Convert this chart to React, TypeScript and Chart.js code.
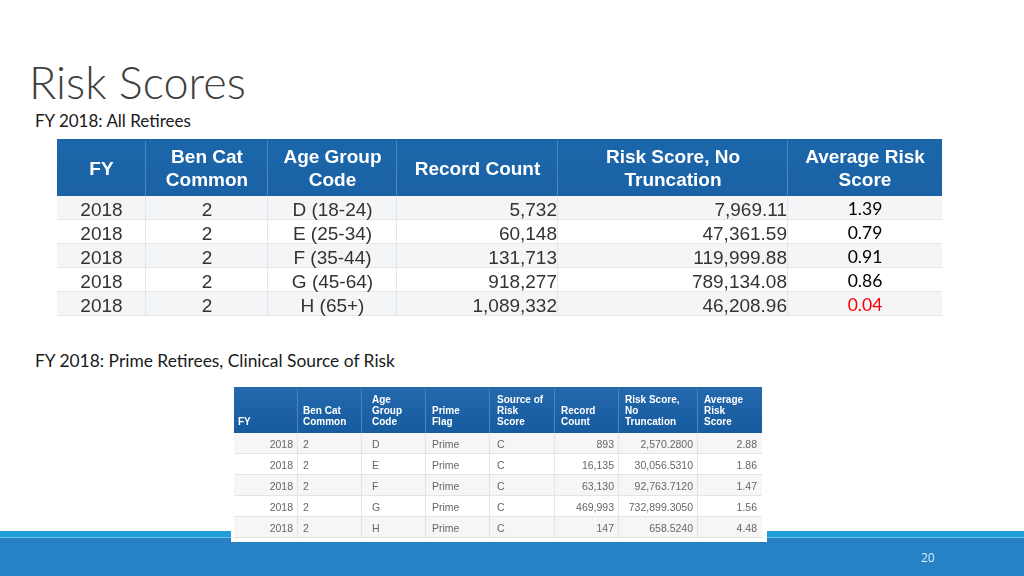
import React, { useEffect, useRef } from "react";
import { Chart, registerables } from "chart.js";

Chart.register(...registerables);

// ---------- Table 1: FY 2018, All Retirees ----------
const t1Headers = [
  ["FY"],
  ["Ben Cat", "Common"],
  ["Age Group", "Code"],
  ["Record Count"],
  ["Risk Score, No", "Truncation"],
  ["Average Risk", "Score"],
];
const t1FiscalYears = ["2018", "2018", "2018", "2018", "2018"];
const t1BenCat = ["2", "2", "2", "2", "2"];
const t1AgeGroups = ["D (18-24)", "E (25-34)", "F (35-44)", "G (45-64)", "H (65+)"];
const t1RecordCounts = [5732, 60148, 131713, 918277, 1089332];
const t1RiskScores = [7969.11, 47361.59, 119999.88, 789134.08, 46208.96];
const t1AvgRisk = [1.39, 0.79, 0.91, 0.86, 0.04];

// ---------- Table 2: FY 2018, Prime Retirees, Clinical Source ----------
const t2Headers = [
  ["FY"],
  ["Ben Cat", "Common"],
  ["Age", "Group", "Code"],
  ["Prime", "Flag"],
  ["Source of", "Risk", "Score"],
  ["Record", "Count"],
  ["Risk Score,", "No", "Truncation"],
  ["Average", "Risk", "Score"],
];
const t2FiscalYears = ["2018", "2018", "2018", "2018", "2018"];
const t2BenCat = ["2", "2", "2", "2", "2"];
const t2AgeCodes = ["D", "E", "F", "G", "H"];
const t2PrimeFlags = ["Prime", "Prime", "Prime", "Prime", "Prime"];
const t2Sources = ["C", "C", "C", "C", "C"];
const t2RecordCounts = [893, 16135, 63130, 469993, 147];
const t2RiskScores = [2570.28, 30056.531, 92763.712, 732899.305, 658.524];
const t2AvgRisk = [2.88, 1.86, 1.47, 1.56, 4.48];

const LOW_RISK_LIMIT = 0.5;

const fmtInt = (n: number) => n.toLocaleString("en-US");
const fmtDec = (d: number) => (n: number) =>
  n.toLocaleString("en-US", { minimumFractionDigits: d, maximumFractionDigits: d });

type Align = "left" | "center" | "right";
interface Cell { text: string; color?: string }
interface ColSpec { width: number; align: Align; pad: number; font?: string; color?: string; headerPad?: number; dy?: number }
interface TableSpec {
  cols: ColSpec[];
  headerH: number;
  rowH: number;
  headerLines: string[][];
  headerFont: string;
  headerLineH: number;
  headerVAlign: "middle" | "bottom";
  headerBottomPad: number;
  headerAlign: Align;
  headerBg: [string, string];
  headerDivider: string;
  headerDy: number;
  rows: Cell[][];
  rowBg: [string, string];
  gridColor: string;
  bodyFont: string;
  bodyColor: string;
  bodyDy: number;
}

const t1Rows: Cell[][] = t1FiscalYears.map((fy, i) => [
  { text: fy },
  { text: t1BenCat[i] },
  { text: t1AgeGroups[i] },
  { text: fmtInt(t1RecordCounts[i]) },
  { text: fmtDec(2)(t1RiskScores[i]) },
  { text: fmtDec(2)(t1AvgRisk[i]), color: t1AvgRisk[i] < LOW_RISK_LIMIT ? "#ff0000" : "#000000" },
]);

const t2Rows: Cell[][] = t2FiscalYears.map((fy, i) => [
  { text: fy },
  { text: t2BenCat[i] },
  { text: t2AgeCodes[i] },
  { text: t2PrimeFlags[i] },
  { text: t2Sources[i] },
  { text: fmtInt(t2RecordCounts[i]) },
  { text: fmtDec(4)(t2RiskScores[i]) },
  { text: fmtDec(2)(t2AvgRisk[i]) },
]);

const table1: TableSpec = {
  cols: [
    { width: 89, align: "center", pad: 0 },
    { width: 122, align: "center", pad: 0 },
    { width: 129, align: "center", pad: 0 },
    { width: 161, align: "right", pad: 1 },
    { width: 230, align: "right", pad: 1 },
    { width: 154, align: "center", pad: 0, font: "17.5px Lato, 'Open Sans', sans-serif", dy: -1.5 },
  ],
  headerH: 57,
  rowH: 24,
  headerLines: t1Headers,
  headerFont: "bold 19px 'Liberation Sans', Arial, sans-serif",
  headerLineH: 23,
  headerVAlign: "middle",
  headerBottomPad: 0,
  headerAlign: "center",
  headerBg: ["#1b66aa", "#1a62a5"],
  headerDivider: "#4c87c2",
  headerDy: 2,
  rows: t1Rows,
  rowBg: ["#f3f5f7", "#ffffff"],
  gridColor: "#e3e7eb",
  bodyFont: "19px 'Liberation Sans', Arial, sans-serif",
  bodyColor: "#333333",
  bodyDy: 3,
};

const table2: TableSpec = {
  cols: [
    { width: 64, align: "right", pad: 5, headerPad: 4 },
    { width: 64, align: "left", pad: 5 },
    { width: 64, align: "left", pad: 10, headerPad: 10 },
    { width: 64, align: "left", pad: 6 },
    { width: 65, align: "left", pad: 7 },
    { width: 64, align: "right", pad: 5, headerPad: 6 },
    { width: 79, align: "right", pad: 5, headerPad: 6 },
    { width: 64, align: "right", pad: 5, headerPad: 6 },
  ],
  headerH: 46,
  rowH: 21,
  headerLines: t2Headers,
  headerFont: "bold 10px 'Liberation Sans', Arial, sans-serif",
  headerLineH: 11,
  headerVAlign: "bottom",
  headerBottomPad: 12,
  headerAlign: "left",
  headerBg: ["#2569ad", "#165b9f"],
  headerDivider: "#4a84c0",
  headerDy: 1,
  rows: t2Rows,
  rowBg: ["#f6f6f6", "#ffffff"],
  gridColor: "#e4e4e4",
  bodyFont: "10.5px 'Liberation Sans', Arial, sans-serif",
  bodyColor: "#666666",
  bodyDy: 2,
};

function tableSize(spec: TableSpec) {
  const w = spec.cols.reduce((s, c) => s + c.width, 0);
  const h = spec.headerH + spec.rowH * spec.rows.length;
  return { w, h };
}

function makeTablePlugin(spec: TableSpec) {
  return {
    id: "tableCells",
    afterDraw(chart: any) {
      const { ctx } = chart;
      const xs = chart.scales.x;
      const ys = chart.scales.y;
      const { w, h } = tableSize(spec);
      const xEdges: number[] = [0];
      spec.cols.forEach((c) => xEdges.push(xEdges[xEdges.length - 1] + c.width));
      const yEdges: number[] = [0, spec.headerH];
      spec.rows.forEach(() => yEdges.push(yEdges[yEdges.length - 1] + spec.rowH));
      const px = (v: number) => xs.getPixelForValue(v);
      const py = (v: number) => ys.getPixelForValue(v);

      ctx.save();
      // header background
      const g = ctx.createLinearGradient(0, py(0), 0, py(spec.headerH));
      g.addColorStop(0, spec.headerBg[0]);
      g.addColorStop(1, spec.headerBg[1]);
      ctx.fillStyle = g;
      ctx.fillRect(px(0), py(0), px(w) - px(0), py(spec.headerH) - py(0));

      // row backgrounds
      spec.rows.forEach((_, r) => {
        ctx.fillStyle = spec.rowBg[r % 2];
        ctx.fillRect(px(0), py(yEdges[r + 1]), px(w) - px(0), py(yEdges[r + 2]) - py(yEdges[r + 1]));
      });

      // grid lines (body)
      ctx.strokeStyle = spec.gridColor;
      ctx.lineWidth = 1;
      for (let r = 2; r < yEdges.length; r++) {
        const yy = Math.round(py(yEdges[r])) - 0.5;
        ctx.beginPath();
        ctx.moveTo(px(0), yy);
        ctx.lineTo(px(w), yy);
        ctx.stroke();
      }
      for (let c = 1; c < xEdges.length - 1; c++) {
        const xx = Math.round(px(xEdges[c])) - 0.5;
        ctx.beginPath();
        ctx.moveTo(xx, py(spec.headerH));
        ctx.lineTo(xx, py(h));
        ctx.stroke();
      }
      // header dividers
      ctx.strokeStyle = spec.headerDivider;
      for (let c = 1; c < xEdges.length - 1; c++) {
        const xx = Math.round(px(xEdges[c])) - 0.5;
        ctx.beginPath();
        ctx.moveTo(xx, py(0) + 2);
        ctx.lineTo(xx, py(spec.headerH));
        ctx.stroke();
      }

      // header text
      ctx.fillStyle = "#ffffff";
      ctx.font = spec.headerFont;
      ctx.textBaseline = "middle";
      spec.headerLines.forEach((lines, c) => {
        const col = spec.cols[c];
        const n = lines.length;
        let firstY: number;
        if (spec.headerVAlign === "middle") {
          firstY = spec.headerH / 2 - ((n - 1) * spec.headerLineH) / 2;
        } else {
          firstY = spec.headerH - spec.headerBottomPad - (n - 1) * spec.headerLineH;
        }
        let tx: number;
        if (spec.headerAlign === "center") {
          ctx.textAlign = "center";
          tx = (xEdges[c] + xEdges[c + 1]) / 2;
        } else {
          ctx.textAlign = "left";
          tx = xEdges[c] + (col.headerPad ?? col.pad);
        }
        lines.forEach((ln, i) => {
          ctx.fillText(ln, px(tx), py(firstY + i * spec.headerLineH) + spec.headerDy);
        });
      });

      // body text
      spec.rows.forEach((row, r) => {
        const cy = (yEdges[r + 1] + yEdges[r + 2]) / 2;
        row.forEach((cell, c) => {
          const col = spec.cols[c];
          ctx.font = col.font ?? spec.bodyFont;
          ctx.fillStyle = cell.color ?? col.color ?? spec.bodyColor;
          ctx.textAlign = col.align;
          let tx: number;
          if (col.align === "center") tx = (xEdges[c] + xEdges[c + 1]) / 2;
          else if (col.align === "left") tx = xEdges[c] + col.pad;
          else tx = xEdges[c + 1] - col.pad;
          ctx.fillText(cell.text, px(tx), py(cy) + spec.bodyDy + (col.dy ?? 0));
        });
      });
      ctx.restore();
    },
  };
}

function TableChart({ spec }: { spec: TableSpec }) {
  const ref = useRef<HTMLCanvasElement | null>(null);
  const { w, h } = tableSize(spec);
  useEffect(() => {
    if (!ref.current) return;
    const chart = new Chart(ref.current, {
      type: "scatter",
      data: { datasets: [{ data: [] }] },
      options: {
        responsive: false,
        animation: false,
        events: [],
        layout: { padding: 0 },
        plugins: { legend: { display: false }, tooltip: { enabled: false } },
        scales: {
          x: { type: "linear", display: false, min: 0, max: w },
          y: { type: "linear", display: false, min: 0, max: h, reverse: true },
        },
      },
      plugins: [makeTablePlugin(spec)],
    } as any);
    return () => chart.destroy();
  }, [spec, w, h]);
  return <canvas ref={ref} width={w} height={h} style={{ display: "block", width: w, height: h }} />;
}

export default function App() {
  return (
    <div
      style={{
        position: "fixed",
        left: 0,
        top: 0,
        width: 1024,
        height: 576,
        background: "#ffffff",
        overflow: "hidden",
        fontFamily: "Lato, 'Open Sans', sans-serif",
      }}
    >
      <div
        style={{
          position: "absolute",
          left: 29,
          top: 60,
          fontSize: 45,
          lineHeight: "45px",
          fontWeight: 300,
          color: "#404040",
          whiteSpace: "nowrap",
        }}
      >
        Risk Scores
      </div>
      <div style={{ position: "absolute", left: 35, top: 112, fontSize: 17, lineHeight: "17px", color: "#1a1a1a", whiteSpace: "nowrap" }}>
        FY 2018: All Retirees
      </div>

      <div style={{ position: "absolute", left: 57, top: 139 }}>
        <TableChart spec={table1} />
      </div>

      <div style={{ position: "absolute", left: 35, top: 352, fontSize: 17.4, lineHeight: "17px", color: "#1a1a1a", whiteSpace: "nowrap" }}>
        FY 2018: Prime Retirees, Clinical Source of Risk
      </div>

      {/* footer band */}
      <div style={{ position: "absolute", left: 0, top: 531, width: 1024, height: 6, background: "#1fa0db" }} />
      <div style={{ position: "absolute", left: 0, top: 537, width: 1024, height: 1, background: "#6cc0ec" }} />
      <div style={{ position: "absolute", left: 0, top: 538, width: 1024, height: 38, background: "#2682c4" }} />
      <div style={{ position: "absolute", left: 921, top: 551, fontSize: 12, lineHeight: "14px", color: "#d6ecfa", fontFamily: "'Open Sans', sans-serif" }}>
        20
      </div>

      <div
        style={{
          position: "absolute",
          left: 231,
          top: 384,
          width: 536,
          height: 158,
          background: "#ffffff",
          boxSizing: "border-box",
          paddingLeft: 3,
          paddingTop: 3,
        }}
      >
        <TableChart spec={table2} />
      </div>
    </div>
  );
}
